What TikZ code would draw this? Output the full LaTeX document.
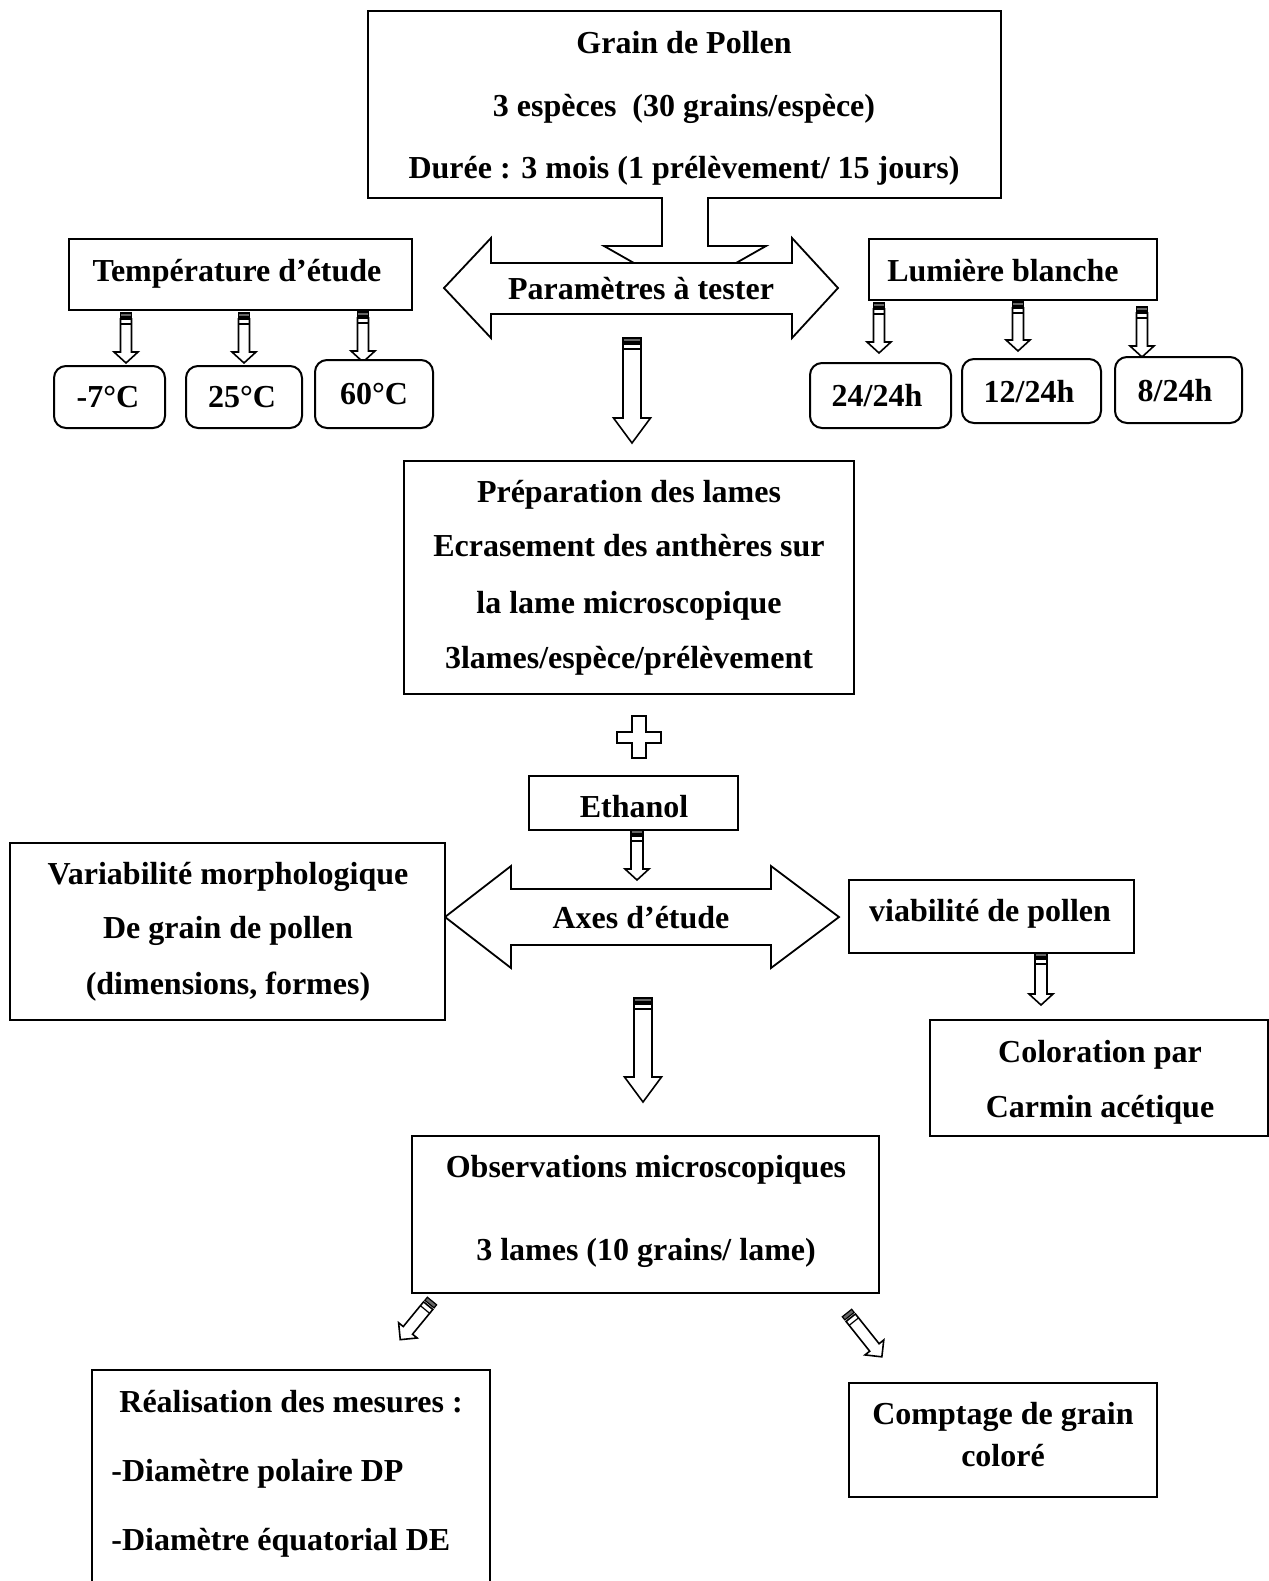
\documentclass[tikz,border=0pt]{standalone}
\usepackage{fontspec}
\setmainfont{Liberation Serif}
\usetikzlibrary{fit,calc}
\tikzset{
  box/.style={draw, line width=1pt, inner sep=0pt, fill=white},
  rbox/.style={box, rounded corners=6pt},
  txt/.style={inner sep=0pt, anchor=base, font=\fontsize{16}{19}\selectfont\bfseries},
  ltxt/.style={txt, anchor=base west},
  shape line/.style={draw, line width=0.9pt, fill=white, line join=miter},
}
% hollow arrow: #1 x, #2 y (tail), #3 rotation, #4 length, #5 shaft half width, #6 head half width, #7 head length
\newcommand{\hollowarr}[7]{%
  \begin{scope}[shift={(#1,#2)}, rotate=#3]
    \filldraw[fill=gray!80!black, line width=0.6pt] (-#5,0) rectangle (#5,4);
    \draw[fill=white, line width=0.8pt, line join=miter] (-#5,6) -- (-#5,#4-#7) -- (-#6,#4-#7) -- (0,#4) -- (#6,#4-#7) -- (#5,#4-#7) -- (#5,6) -- cycle;
    \draw[line width=0.6pt] (-#5,11) -- (#5,11);
  \end{scope}}
\begin{document}
\begin{tikzpicture}[x=0.5pt, y=-0.5pt]
\useasboundingbox (0,0) rectangle (1269,1581);
\clip (0,0) rectangle (1269,1581);

% ---- top box
\node[box, fit={(368,11) (1001,198)}] (grain) {};
\node[txt] (g1) at (684,53) {Grain de Pollen};
\node[txt] (g2) at (684,116) {3 espèces\ \ (30 grains/espèce)};
\node[txt] (g3) at (684,178) {Durée : 3 mois (1 prélèvement/ 15 jours)};

% arrow from top box (behind double arrow)
\fill[white] (663,194) rectangle (707,250);
\draw[line width=0.9pt, fill=white, line join=miter] (662,198) -- (662,246) -- (604,246) -- (685,292) -- (766,246) -- (708,246) -- (708,198);

% double arrow Paramètres
\draw[shape line] (444,288) -- (491,238) -- (491,263) -- (792,263) -- (792,238) -- (838,288)
   -- (792,338) -- (792,314) -- (491,314) -- (491,338) -- cycle;
\node[txt] (param) at (641,299) {Paramètres à tester};

% ---- temperature
\node[box, fit={(69,239) (412,310)}] (temp) {};
\node[txt] (tempt) at (237,281) {Température d’étude};
\hollowarr{126}{313}{0}{50}{5.5}{12}{11}
\hollowarr{244}{313}{0}{50}{5.5}{12}{11}
\hollowarr{363}{312}{0}{50}{5.5}{12}{11}
\node[rbox, fit={(54,366) (165,428)}] (m7) {};
\node[txt] (m7t) at (108,407) {-7°C};
\node[rbox, fit={(186,366) (302,428)}] (p25) {};
\node[txt] (p25t) at (242,407) {25°C};
\node[rbox, fit={(315,360) (433,428)}] (p60) {};
\node[txt] (p60t) at (374,404) {60°C};

% ---- lumière
\node[box, fit={(869,239) (1157,300)}] (lum) {};
\node[txt] (lumt) at (1003,281) {Lumière blanche};
\hollowarr{879}{303}{0}{50}{5.5}{12}{11}
\hollowarr{1018}{302}{0}{49}{5.5}{12}{11}
\hollowarr{1142}{307}{0}{50}{5.5}{12}{11}
\node[rbox, fit={(810,363) (951,428)}] (h24) {};
\node[txt] (h24t) at (877,406) {24/24h};
\node[rbox, fit={(962,359) (1101,423)}] (h12) {};
\node[txt] (h12t) at (1029,402) {12/24h};
\node[rbox, fit={(1115,357) (1242,423)}] (h8) {};
\node[txt] (h8t) at (1175,401) {8/24h};

% big arrow 1
\hollowarr{632}{338}{0}{105}{9}{18.5}{25}

% ---- preparation
\node[box, fit={(404,461) (854,694)}] (prep) {};
\node[txt] (pr1) at (629,502) {Préparation des lames};
\node[txt] (pr2) at (629,556) {Ecrasement des anthères sur};
\node[txt] (pr3) at (629,613) {la lame microscopique};
\node[txt] (pr4) at (629,668) {3lames/espèce/prélèvement};

% cross
\draw[shape line] (632,716) -- (646,716) -- (646,732) -- (661,732) -- (661,743) -- (646,743) -- (646,758)
  -- (632,758) -- (632,743) -- (617,743) -- (617,732) -- (632,732) -- cycle;

% ethanol
\node[box, fit={(529,776) (738,830)}] (eth) {};
\node[txt] (etht) at (634,817) {Ethanol};
\hollowarr{637}{830}{0}{50}{6}{12}{11}

% double arrow Axes
\draw[shape line] (445,917) -- (511,866) -- (511,889) -- (771,889) -- (771,866) -- (839,917)
   -- (771,968) -- (771,945) -- (511,945) -- (511,968) -- cycle;
\node[txt] (axes) at (641,928) {Axes d’étude};

% variabilité
\node[box, fit={(10,843) (445,1020)}] (var) {};
\node[txt] (v1) at (228,884) {Variabilité morphologique};
\node[txt] (v2) at (228,938) {De grain de pollen};
\node[txt] (v3) at (228,994) {(dimensions, formes)};

% viabilité
\node[box, fit={(849,880) (1134,953)}] (via) {};
\node[txt] (viat) at (990,921) {viabilité de pollen};
\hollowarr{1041}{953}{0}{52}{6}{12}{11}

% coloration
\node[box, fit={(930,1020) (1268,1136)}] (col) {};
\node[txt] (c1) at (1100,1062) {Coloration par};
\node[txt] (c2) at (1100,1117) {Carmin acétique};

% big arrow 2
\hollowarr{643}{998}{0}{104}{9}{18.5}{25}

% observations
\node[box, fit={(412,1136) (879,1293)}] (obs) {};
\node[txt] (o1) at (646,1177) {Observations microscopiques};
\node[txt] (o2) at (646,1260) {3 lames (10 grains/ lame)};

% diagonal arrows
\hollowarr{432}{1301}{-39.4}{50}{6}{12}{12}
\hollowarr{847}{1313}{38.5}{56}{6}{12}{12}

% réalisation
\node[box, fit={(92,1370) (490,1600)}] (real) {};
\node[ltxt] (r1) at (119,1412) {Réalisation des mesures :};
\node[ltxt] (r2) at (111,1481) {-Diamètre polaire DP};
\node[ltxt] (r3) at (111,1550) {-Diamètre équatorial DE};

% comptage
\node[box, fit={(849,1383) (1157,1497)}] (cpt) {};
\node[txt] (cp1) at (1003,1424) {Comptage de grain};
\node[txt] (cp2) at (1003,1466) {coloré};
\end{tikzpicture}
\end{document}
